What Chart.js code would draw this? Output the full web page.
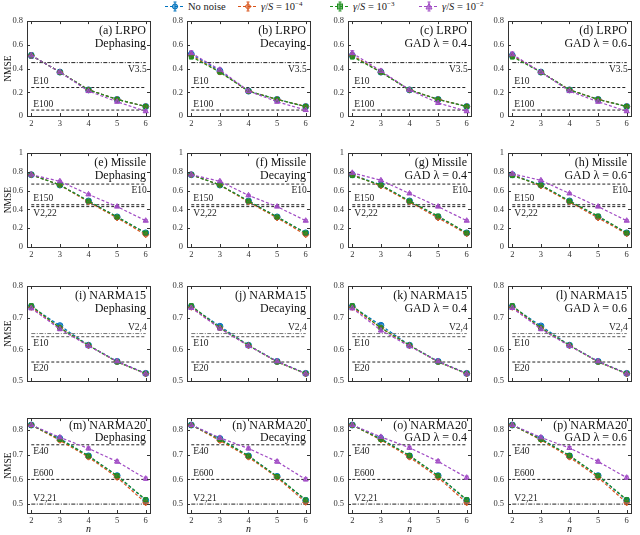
<!DOCTYPE html>
<html><head><meta charset="utf-8">
<script src="https://cdn.jsdelivr.net/npm/chart.js@4.4.0/dist/chart.umd.min.js"></script>
<style>
html,body{margin:0;padding:0;background:#fff;}
#wrap{position:relative;width:640px;height:535px;overflow:hidden;font-family:'Liberation Serif',serif;}
canvas{position:absolute;}
.li{position:absolute;top:0;white-space:nowrap;line-height:13px;font-size:10.5px;color:#222;font-family:'Liberation Serif',serif;}
.li svg{position:absolute;top:0;}
sup{font-size:7px;vertical-align:4px;line-height:0;}
</style></head><body><div id="wrap"></div>
<script>
// ---------- DATA ----------
const nValues = [2, 3, 4, 5, 6];
const xTicks = [2, 3, 4, 5, 6];
const seriesNames = ['No noise', 'γ/S = 10^-4', 'γ/S = 10^-3', 'γ/S = 10^-2'];

const panelTitles = [
  ['(a) LRPO', 'Dephasing'], ['(b) LRPO', 'Decaying'], ['(c) LRPO', 'GAD λ = 0.4'], ['(d) LRPO', 'GAD λ = 0.6'],
  ['(e) Missile', 'Dephasing'], ['(f) Missile', 'Decaying'], ['(g) Missile', 'GAD λ = 0.4'], ['(h) Missile', 'GAD λ = 0.6'],
  ['(i) NARMA15', 'Dephasing'], ['(j) NARMA15', 'Decaying'], ['(k) NARMA15', 'GAD λ = 0.4'], ['(l) NARMA15', 'GAD λ = 0.6'],
  ['(m) NARMA20', 'Dephasing'], ['(n) NARMA20', 'Decaying'], ['(o) NARMA20', 'GAD λ = 0.4'], ['(p) NARMA20', 'GAD λ = 0.6']
];

// y tick labels per task row
const yTicksLRPO = [0, 0.2, 0.4, 0.6, 0.8];
const yTicksMissile = [0, 0.2, 0.4, 0.6, 0.8, 1];
const yTicksNARMA15 = [0.5, 0.6, 0.7, 0.8];
const yTicksNARMA20 = [0.5, 0.6, 0.7, 0.8];

// reference levels per task row
const refLRPO = [0.45, 0.24, 0.05];
const refLRPOLabels = ['V3.5', 'E10', 'E100'];
const refMissile = [0.67, 0.45, 0.43];
const refMissileLabels = ['E10', 'E150', 'V2,22'];
const refNARMA15 = [0.65, 0.64, 0.56];
const refNARMA15Labels = ['V2,4', 'E10', 'E20'];
const refNARMA20 = [0.74, 0.60, 0.50];
const refNARMA20Labels = ['E40', 'E600', 'V2,21'];

// error bar half-widths per task row
const errLRPO = [0.02, 0.015, 0.01, 0.01, 0.008];
const errMissile = [0.01, 0.01, 0.01, 0.01, 0.01];
const errNARMA15 = [0.005, 0.005, 0.004, 0.004, 0.004];
const errNARMA20 = [0.005, 0.006, 0.006, 0.006, 0.006];

// NMSE per panel: [no noise, 1e-4, 1e-3, 1e-2]
const dataA = [[0.51,0.37,0.22,0.14,0.08],[0.51,0.37,0.22,0.14,0.08],[0.51,0.37,0.22,0.14,0.08],[0.51,0.37,0.21,0.12,0.04]];
const dataB = [[0.52,0.38,0.21,0.14,0.08],[0.51,0.37,0.21,0.14,0.08],[0.50,0.37,0.21,0.14,0.08],[0.53,0.39,0.21,0.12,0.05]];
const dataC = [[0.51,0.37,0.22,0.14,0.08],[0.51,0.37,0.22,0.14,0.08],[0.50,0.37,0.22,0.14,0.08],[0.53,0.38,0.22,0.11,0.04]];
const dataD = [[0.51,0.37,0.22,0.14,0.08],[0.51,0.37,0.22,0.14,0.08],[0.50,0.37,0.22,0.14,0.08],[0.52,0.37,0.21,0.12,0.04]];
const dataE = [[0.77,0.66,0.49,0.32,0.15],[0.77,0.66,0.48,0.31,0.13],[0.77,0.66,0.49,0.32,0.15],[0.77,0.70,0.56,0.43,0.28]];
const dataF = [[0.77,0.66,0.49,0.32,0.15],[0.77,0.66,0.48,0.31,0.13],[0.77,0.66,0.49,0.32,0.15],[0.77,0.70,0.55,0.43,0.28]];
const dataG = [[0.77,0.66,0.49,0.32,0.15],[0.77,0.65,0.48,0.31,0.14],[0.76,0.66,0.49,0.33,0.15],[0.79,0.71,0.57,0.43,0.28]];
const dataH = [[0.77,0.66,0.49,0.32,0.15],[0.77,0.65,0.48,0.31,0.14],[0.76,0.66,0.49,0.33,0.15],[0.78,0.71,0.57,0.43,0.28]];
const dataI = [[0.735,0.675,0.613,0.562,0.524],[0.733,0.668,0.612,0.561,0.523],[0.738,0.668,0.613,0.560,0.524],[0.730,0.664,0.611,0.562,0.523]];
const dataJ = [[0.735,0.673,0.613,0.562,0.524],[0.733,0.668,0.612,0.561,0.523],[0.738,0.668,0.613,0.560,0.524],[0.731,0.666,0.611,0.562,0.523]];
const dataK = [[0.735,0.676,0.613,0.562,0.524],[0.733,0.668,0.612,0.561,0.523],[0.738,0.668,0.613,0.560,0.524],[0.730,0.660,0.610,0.562,0.523]];
const dataL = [[0.735,0.674,0.613,0.562,0.524],[0.733,0.668,0.612,0.561,0.523],[0.738,0.668,0.613,0.560,0.524],[0.731,0.664,0.611,0.562,0.523]];
const dataM = [[0.82,0.765,0.695,0.615,0.515],[0.82,0.758,0.690,0.608,0.505],[0.82,0.762,0.695,0.615,0.518],[0.82,0.770,0.725,0.672,0.603]];
const dataN = [[0.82,0.765,0.695,0.612,0.515],[0.82,0.757,0.690,0.608,0.507],[0.82,0.762,0.695,0.612,0.517],[0.82,0.768,0.725,0.672,0.600]];
const dataO = [[0.82,0.765,0.695,0.615,0.515],[0.82,0.760,0.690,0.608,0.505],[0.82,0.762,0.697,0.615,0.518],[0.82,0.772,0.728,0.673,0.607]];
const dataP = [[0.82,0.765,0.695,0.615,0.515],[0.82,0.760,0.690,0.608,0.505],[0.82,0.762,0.697,0.615,0.518],[0.82,0.770,0.727,0.672,0.607]];

// ---------- STYLE / LAYOUT ----------
const FONT = "'Liberation Serif', serif";
const seriesColors = ['#0072BD', '#D95319', '#1E8E1E', '#A04BC4'];
const seriesFills = ['rgba(0,114,189,0.55)', 'rgba(217,83,25,0.55)', 'rgba(30,142,30,0.6)', 'rgba(160,75,196,0.55)'];
const seriesMarkers = ['circle', 'rectRot', 'rect', 'triangle'];
const colLeft = [27, 187, 348, 508];
const boxW = 123;
const rowTop = [20, 152, 285, 417];
const rowH = [96, 95, 96, 96];
const rowYRange = [[0, 0.8], [0, 1], [0.5, 0.8], [0.464, 0.848]];
const rowYTicks = [yTicksLRPO, yTicksMissile, yTicksNARMA15, yTicksNARMA20];
const rowRefs = [refLRPO, refMissile, refNARMA15, refNARMA20];
const rowRefLabels = [refLRPOLabels, refMissileLabels, refNARMA15Labels, refNARMA20Labels];
const rowRefDash = [['dashdot','dashed','dashed'], ['dashed','dashed','dashed'], ['dashdot','dashed','dashed'], ['dashed','dashed','dashdot']];
const rowRefPos = [['rb','la','la'], ['rb','la','lb'], ['ra','lb','lb'], ['lb','la','la']];
const rowRefColor = [['#222','#222','#222'], ['#222','#222','#222'], ['#777','#555','#222'], ['#222','#222','#222']];
const rowTitleOff = [[10, 22.5], [10, 22.5], [10, 22.5], [7.5, 19.5]];
const rowErr = [errLRPO, errMissile, errNARMA15, errNARMA20];
const rowShowX = [true, true, false, true];
const panelData = [dataA, dataB, dataC, dataD, dataE, dataF, dataG, dataH, dataI, dataJ, dataK, dataL, dataM, dataN, dataO, dataP];
const PT = 8, PR = 8, YW = 27;

const wrap = document.getElementById('wrap');

// ---------- LEGEND ----------
const legendX = [165, 238, 330, 419];
const legendHTML = [
  'No noise',
  '<i>γ</i>/<i>S</i> = 10<sup>−4</sup>',
  '<i>γ</i>/<i>S</i> = 10<sup>−3</sup>',
  '<i>γ</i>/<i>S</i> = 10<sup>−2</sup>'
];
function markerSVG(i, cx, cy) {
  const c = seriesColors[i], f = seriesFills[i];
  if (i === 0) return `<circle cx="${cx}" cy="${cy}" r="2.6" fill="${f}" stroke="${c}" stroke-width="1"/>`;
  if (i === 1) return `<polygon points="${cx},${cy-3} ${cx+3},${cy} ${cx},${cy+3} ${cx-3},${cy}" fill="${f}" stroke="${c}" stroke-width="1"/>`;
  if (i === 2) return `<rect x="${cx-2.5}" y="${cy-2.5}" width="5" height="5" fill="${f}" stroke="${c}" stroke-width="1"/>`;
  return `<polygon points="${cx},${cy-3} ${cx+3},${cy+2.5} ${cx-3},${cy+2.5}" fill="${f}" stroke="${c}" stroke-width="1"/>`;
}
seriesNames.forEach((name, i) => {
  const d = document.createElement('div');
  d.className = 'li';
  d.style.left = legendX[i] + 'px';
  d.style.top = '0px';
  const c = seriesColors[i];
  d.innerHTML = `<svg width="20" height="13" style="left:0"><line x1="0" y1="6.5" x2="20" y2="6.5" stroke="${c}" stroke-width="1.1" stroke-dasharray="3,2"/>` +
    `<line x1="10" y1="2" x2="10" y2="11" stroke="${c}" stroke-width="1"/><line x1="8.5" y1="2" x2="11.5" y2="2" stroke="${c}"/><line x1="8.5" y1="11" x2="11.5" y2="11" stroke="${c}"/>` +
    markerSVG(i, 10, 6.5) + `</svg><span style="margin-left:23px">${legendHTML[i]}</span>`;
  wrap.appendChild(d);
});

// ---------- DECORATION PLUGIN ----------
function makeDeco(info) {
  return {
    id: 'deco' + info.idx,
    beforeDatasetsDraw(chart) {
      const ctx = chart.ctx, xs = chart.scales.x, ys = chart.scales.y;
      ctx.save();
      info.series.forEach((vals, s) => {
        ctx.strokeStyle = seriesColors[s];
        ctx.lineWidth = 1;
        vals.forEach((v, k) => {
          const e = info.err[k];
          const x = xs.getPixelForValue(nValues[k]);
          const y1 = ys.getPixelForValue(v - e), y2 = ys.getPixelForValue(v + e);
          ctx.beginPath();
          ctx.moveTo(x, y1); ctx.lineTo(x, y2);
          ctx.moveTo(x - 2, y1); ctx.lineTo(x + 2, y1);
          ctx.moveTo(x - 2, y2); ctx.lineTo(x + 2, y2);
          ctx.stroke();
        });
      });
      ctx.restore();
    },
    afterDatasetsDraw(chart) {
      const ctx = chart.ctx, a = chart.chartArea, xs = chart.scales.x, ys = chart.scales.y;
      ctx.save();
      // box
      ctx.strokeStyle = '#333';
      ctx.lineWidth = 1;
      ctx.strokeRect(Math.round(a.left) + 0.5, Math.round(a.top) + 0.5, Math.round(a.right - a.left), Math.round(a.bottom - a.top));
      // inward ticks
      ctx.beginPath();
      xTicks.forEach(t => {
        const x = Math.round(xs.getPixelForValue(t)) + 0.5;
        ctx.moveTo(x, a.bottom); ctx.lineTo(x, a.bottom - 3);
        ctx.moveTo(x, a.top); ctx.lineTo(x, a.top + 3);
      });
      info.yTicks.forEach(t => {
        const y = Math.round(ys.getPixelForValue(t)) + 0.5;
        ctx.moveTo(a.left, y); ctx.lineTo(a.left + 3, y);
        ctx.moveTo(a.right, y); ctx.lineTo(a.right - 3, y);
      });
      ctx.stroke();
      // reference labels
      ctx.fillStyle = '#222';
      ctx.font = '9.5px ' + FONT;
      ctx.textBaseline = 'middle';
      info.refs.forEach((v, j) => {
        const pos = info.refPos[j];
        const y = ys.getPixelForValue(v) + (pos[1] === 'a' ? -6 : 6.5);
        if (pos[0] === 'l') { ctx.textAlign = 'left'; ctx.fillText(info.refLabels[j], xs.getPixelForValue(2) + 2, y); }
        else { ctx.textAlign = 'right'; ctx.fillText(info.refLabels[j], xs.getPixelForValue(6) + 1, y); }
      });
      // panel title
      ctx.font = '12px ' + FONT;
      ctx.textAlign = 'right';
      ctx.fillStyle = '#111';
      ctx.fillText(info.title[0], a.right - 4, a.top + info.titleOff[0]);
      ctx.fillText(info.title[1], a.right - 4, a.top + info.titleOff[1]);
      // axis names
      if (info.col === 0) {
        ctx.save();
        ctx.translate(8, (a.top + a.bottom) / 2);
        ctx.rotate(-Math.PI / 2);
        ctx.textAlign = 'center';
        ctx.font = '9.5px ' + FONT;
        ctx.fillText('NMSE', 0, 0);
        ctx.restore();
      }
      if (info.row === 3) {
        ctx.font = 'italic 10px ' + FONT;
        ctx.textAlign = 'center';
        ctx.fillText('n', (a.left + a.right) / 2, a.bottom + 16);
      }
      ctx.restore();
    }
  };
}

const fmtTick = v => String(Math.round(v * 100) / 100);

// ---------- CHARTS ----------
for (let p = 0; p < 16; p++) {
  const row = Math.floor(p / 4), col = p % 4;
  const XH = row === 3 ? 22 : 16;
  const cv = document.createElement('canvas');
  const W = YW + boxW + PR, H = PT + rowH[row] + XH;
  cv.width = W; cv.height = H;
  cv.style.left = (colLeft[col] - YW) + 'px';
  cv.style.top = (rowTop[row] - PT) + 'px';
  cv.style.width = W + 'px'; cv.style.height = H + 'px';
  wrap.appendChild(cv);

  const series = panelData[p];
  const datasets = [];
  rowRefs[row].forEach((v, j) => {
    datasets.push({
      data: [{ x: 2, y: v }, { x: 6, y: v }],
      borderColor: rowRefColor[row][j], borderWidth: 1,
      borderDash: rowRefDash[row][j] === 'dashdot' ? [4, 1.5, 1, 1.5] : [3, 2],
      pointRadius: 0, order: 10
    });
  });
  series.forEach((vals, s) => {
    datasets.push({
      label: seriesNames[s],
      data: nValues.map((n, k) => ({ x: n, y: vals[k] })),
      borderColor: seriesColors[s], borderWidth: 1.2, borderDash: [3, 2],
      pointStyle: seriesMarkers[s], pointRadius: s === 2 ? 2.8 : 3,
      pointBackgroundColor: seriesFills[s], pointBorderColor: seriesColors[s], pointBorderWidth: 1,
      order: 4 - s, tension: 0
    });
  });

  const info = {
    idx: p, row, col, series, title: panelTitles[p], titleOff: rowTitleOff[row], err: rowErr[row],
    refs: rowRefs[row], refLabels: rowRefLabels[row], refPos: rowRefPos[row], yTicks: rowYTicks[row]
  };

  new Chart(cv, {
    type: 'line',
    data: { datasets },
    options: {
      responsive: false, animation: false, devicePixelRatio: 1,
      layout: { padding: { top: PT, right: PR, left: 0, bottom: 0 } },
      plugins: { legend: { display: false }, tooltip: { enabled: false } },
      scales: {
        x: {
          type: 'linear', min: 1.85, max: 6.15,
          afterBuildTicks: s => { s.ticks = xTicks.map(v => ({ value: v })); },
          afterFit: s => { s.height = XH; },
          grid: { display: false, drawTicks: false }, border: { display: false },
          ticks: { display: rowShowX[row], padding: 3, color: '#333', font: { family: FONT, size: 8.5 }, maxRotation: 0, autoSkip: false, callback: fmtTick }
        },
        y: {
          type: 'linear', min: rowYRange[row][0], max: rowYRange[row][1],
          afterBuildTicks: s => { s.ticks = rowYTicks[row].map(v => ({ value: v })); },
          afterFit: s => { s.width = YW; },
          grid: { display: false, drawTicks: false }, border: { display: false },
          ticks: { padding: 4, color: '#333', font: { family: FONT, size: 8.5 }, autoSkip: false, callback: fmtTick }
        }
      }
    },
    plugins: [makeDeco(info)]
  });
}
</script></body></html>
